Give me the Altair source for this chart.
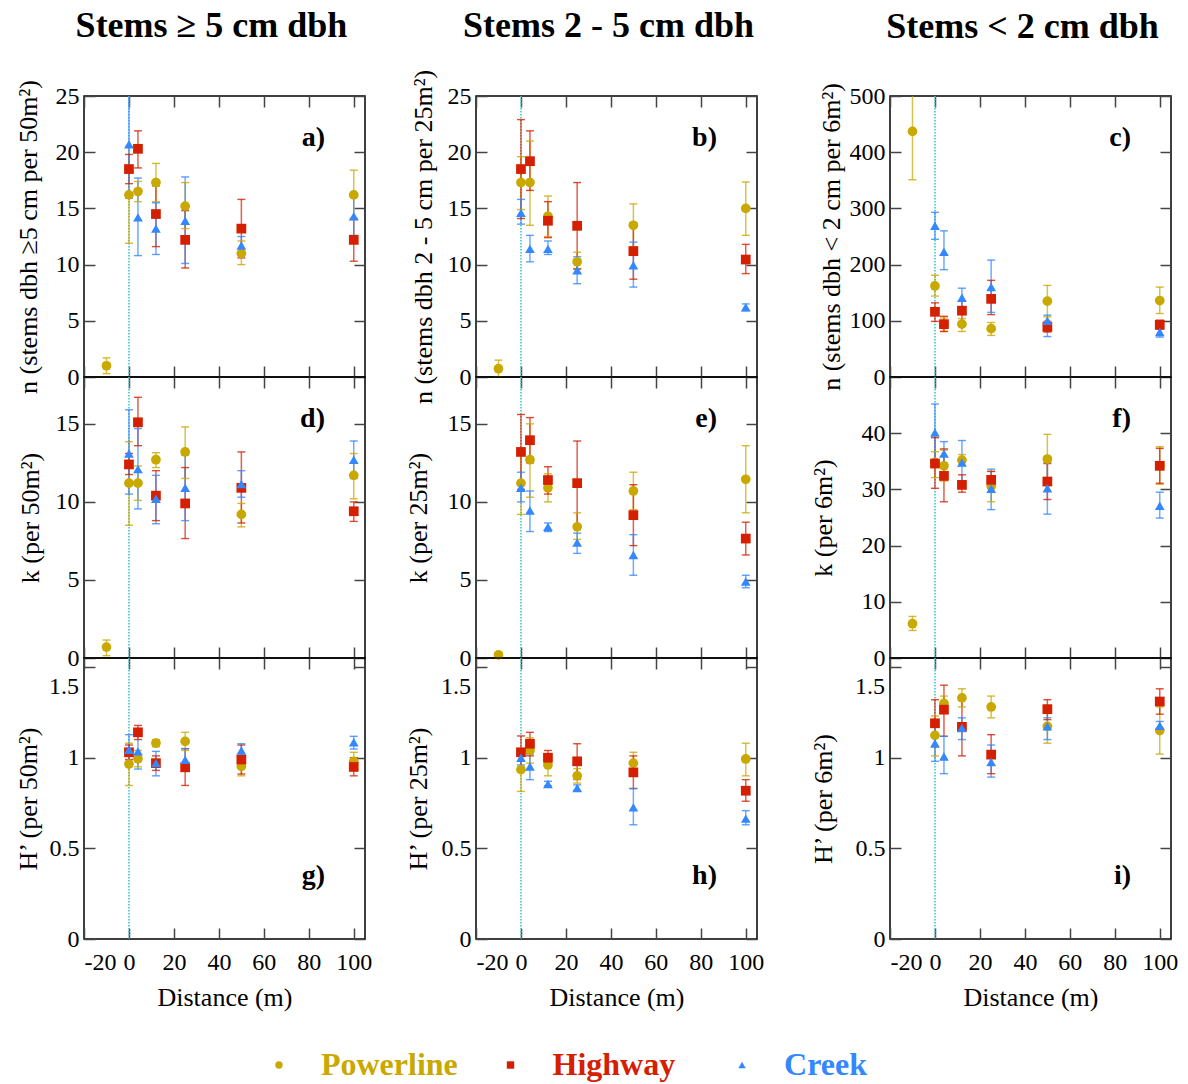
import altair as alt
import pandas as pd

FONT = "Liberation Serif"
SERIES = ["Powerline", "Highway", "Creek"]
COLORS = ["#C9A800", "#D42000", "#3388FF"]
SHAPES = ["circle", "square", "triangle-up"]
DIST = [0, 4, 12, 25, 50, 100]
X_TICKS = [-20, 0, 20, 40, 60, 80, 100]

# Powerline reference plot at -10 m (panels a-f): mean, low, high
REF_DIST = -10
REF_MEAN = [1.0, 0.74, 437, 0.7, 0.2, 6.1]
REF_LO = [0.3, 0.0, 351, 0.15, 0.05, 4.9]
REF_HI = [1.7, 1.5, 523, 1.15, 0.35, 7.4]

# ---- panel a: n stems >= 5 cm per 50 m2
A_POW = [16.2, 16.5, 17.3, 15.2, 11.0, 16.2]
A_POW_LO = [11.9, 15.6, 15.6, 13.2, 10.0, 14.0]
A_POW_HI = [20.5, 17.4, 19.0, 17.3, 12.1, 18.4]
A_HWY = [18.5, 20.3, 14.5, 12.2, 13.2, 12.2]
A_HWY_LO = [17.2, 18.6, 11.6, 9.7, 10.6, 10.3]
A_HWY_HI = [19.8, 21.9, 17.0, 14.8, 15.8, 14.1]
A_CRK = [20.7, 14.2, 13.2, 13.9, 11.7, 14.3]
A_CRK_LO = [15.9, 10.8, 10.9, 10.1, 10.9, 12.6]
A_CRK_HI = [25.5, 17.7, 15.5, 17.8, 12.5, 16.0]

# ---- panel b: n stems 2-5 cm per 25 m2
B_POW = [17.3, 17.3, 14.3, 10.25, 13.5, 15.0]
B_POW_LO = [14.9, 13.5, 12.5, 9.65, 11.6, 12.6]
B_POW_HI = [19.6, 21.0, 16.1, 11.1, 15.4, 17.35]
B_HWY = [18.5, 19.2, 13.9, 13.45, 11.2, 10.45]
B_HWY_LO = [14.1, 16.6, 12.4, 9.6, 8.7, 9.2]
B_HWY_HI = [22.9, 21.9, 15.6, 17.3, 13.7, 11.8]
B_CRK = [14.6, 11.4, 11.4, 9.5, 9.95, 6.2]
B_CRK_LO = [13.6, 10.25, 10.9, 8.3, 8.0, 5.9]
B_CRK_HI = [15.8, 12.6, 12.1, 10.7, 12.0, 6.5]

# ---- panel c: n stems < 2 cm per 6 m2
C_POW = [162, 93, 94, 86, 135, 136]
C_POW_LO = [144, 81, 81, 74, 107, 113]
C_POW_HI = [181, 105, 104, 97, 163, 160]
C_HWY = [116, 94, 118, 139, 89, 93]
C_HWY_LO = [99, 81, 98, 111, 80, 85]
C_HWY_HI = [132, 108, 135, 172, 99, 101]
C_CRK = [269, 223, 141, 160, 100, 80]
C_CRK_LO = [245, 191, 124, 115, 72, 71]
C_CRK_HI = [293, 260, 158, 208, 110, 87]

# ---- panel d: k per 50 m2
D_POW = [11.2, 11.2, 12.7, 13.2, 9.2, 11.7]
D_POW_LO = [8.5, 10.1, 12.2, 11.5, 8.4, 10.2]
D_POW_HI = [13.85, 12.3, 13.15, 14.8, 9.9, 13.1]
D_HWY = [12.4, 15.1, 10.4, 9.9, 10.9, 9.4]
D_HWY_LO = [11.75, 13.6, 8.8, 7.65, 8.65, 8.75]
D_HWY_HI = [13.1, 16.7, 12.0, 12.2, 13.2, 10.0]
D_CRK = [13.1, 12.1, 10.2, 10.9, 11.15, 12.7]
D_CRK_LO = [10.5, 9.55, 8.6, 8.8, 10.3, 11.5]
D_CRK_HI = [15.9, 14.7, 11.7, 13.0, 12.0, 13.9]

# ---- panel e: k per 25 m2
E_POW = [11.2, 12.7, 10.9, 8.4, 10.7, 11.45]
E_POW_LO = [9.2, 10.3, 10.0, 7.6, 9.5, 9.3]
E_POW_HI = [13.2, 15.0, 11.8, 9.3, 11.9, 13.6]
E_HWY = [13.2, 13.95, 11.4, 11.2, 9.15, 7.65]
E_HWY_LO = [10.8, 12.5, 10.5, 8.5, 7.2, 6.6]
E_HWY_HI = [15.6, 15.4, 12.25, 13.9, 11.1, 8.7]
E_CRK = [10.9, 9.45, 8.4, 7.4, 6.6, 4.9]
E_CRK_LO = [10.0, 8.1, 8.1, 6.7, 5.3, 4.5]
E_CRK_HI = [11.9, 10.7, 8.65, 8.0, 7.9, 5.3]

# ---- panel f: k per 6 m2
F_POW = [34.8, 34.2, 35.2, 30.6, 35.4, 34.2]
F_POW_LO = [32.1, 31.5, 34.2, 27.8, 31.0, 30.9]
F_POW_HI = [36.7, 37.0, 36.2, 33.2, 39.8, 37.6]
F_HWY = [34.6, 32.4, 30.8, 31.7, 31.4, 34.2]
F_HWY_LO = [30.2, 27.8, 29.5, 30.2, 28.2, 31.1]
F_HWY_HI = [39.2, 37.2, 32.6, 33.2, 34.6, 37.3]
F_CRK = [40.1, 36.4, 34.8, 30.1, 30.2, 27.1]
F_CRK_LO = [35.0, 34.3, 30.9, 26.4, 25.6, 24.9]
F_CRK_HI = [45.2, 38.5, 38.7, 33.6, 34.8, 29.5]

# ---- panel g: H' per 50 m2
G_POW = [0.965, 0.994, 1.081, 1.09, 0.952, 0.98]
G_POW_LO = [0.847, 0.95, 1.06, 1.04, 0.90, 0.93]
G_POW_HI = [1.08, 1.04, 1.10, 1.14, 1.00, 1.03]
G_HWY = [1.03, 1.14, 0.97, 0.947, 0.99, 0.949]
G_HWY_LO = [0.99, 1.10, 0.93, 0.847, 0.91, 0.90]
G_HWY_HI = [1.07, 1.178, 1.01, 1.05, 1.07, 1.00]
G_CRK = [1.044, 1.035, 0.97, 0.989, 1.04, 1.085]
G_CRK_LO = [0.96, 0.9375, 0.90, 0.93, 1.00, 1.048]
G_CRK_HI = [1.127, 1.13, 1.035, 1.05, 1.077, 1.118]

# ---- panel h: H' per 25 m2
H_POW = [0.934, 1.04, 0.96, 0.90, 0.97, 0.993]
H_POW_LO = [0.814, 0.97, 0.90, 0.86, 0.91, 0.90]
H_POW_HI = [1.05, 1.11, 1.02, 0.94, 1.03, 1.08]
H_HWY = [1.03, 1.077, 1.00, 0.98, 0.919, 0.818]
H_HWY_LO = [0.94, 1.01, 0.96, 0.88, 0.83, 0.76]
H_HWY_HI = [1.12, 1.14, 1.04, 1.077, 1.01, 0.879]
H_CRK = [1.00, 0.952, 0.855, 0.833, 0.726, 0.664]
H_CRK_LO = [0.96, 0.879, 0.845, 0.82, 0.63, 0.63]
H_CRK_HI = [1.04, 1.02, 0.87, 0.85, 0.83, 0.708]

# ---- panel i: H' per 6 m2
I_POW = [1.123, 1.30, 1.33, 1.28, 1.173, 1.15]
I_POW_LO = [1.01, 1.26, 1.28, 1.22, 1.08, 1.02]
I_POW_HI = [1.23, 1.34, 1.38, 1.34, 1.26, 1.28]
I_HWY = [1.19, 1.265, 1.17, 1.017, 1.268, 1.31]
I_HWY_LO = [1.06, 1.118, 1.01, 0.912, 1.21, 1.24]
I_HWY_HI = [1.32, 1.40, 1.33, 1.127, 1.32, 1.38]
I_CRK = [1.08, 1.007, 1.164, 0.976, 1.173, 1.176]
I_CRK_LO = [0.98, 0.912, 1.10, 0.893, 1.10, 1.15]
I_CRK_HI = [1.18, 1.118, 1.22, 1.07, 1.22, 1.20]

COL_TITLES = ["Stems \u2265 5 cm dbh", "Stems 2 - 5 cm dbh", "Stems < 2 cm dbh"]
Y_TITLES = [
    "n (stems dbh \u22655 cm per 50m\u00b2)", "n (stems dbh 2 - 5 cm per 25m\u00b2)", "n (stems dbh < 2 cm per 6m\u00b2)",
    "k (per 50m\u00b2)", "k (per 25m\u00b2)", "k (per 6m\u00b2)",
    "H\u2019 (per 50m\u00b2)", "H\u2019 (per 25m\u00b2)", "H\u2019 (per 6m\u00b2)",
]
PANEL_LABELS = ["a)", "b)", "c)", "d)", "e)", "f)", "g)", "h)", "i)"]
Y_DOMAINS = [[0, 25], [0, 25], [0, 500], [0, 18], [0, 18], [0, 50], [0, 1.55], [0, 1.55], [0, 1.55]]
Y_VALUES = [
    [0, 5, 10, 15, 20, 25], [0, 5, 10, 15, 20, 25], [0, 100, 200, 300, 400, 500],
    [0, 5, 10, 15], [0, 5, 10, 15], [0, 10, 20, 30, 40],
    [0, 0.5, 1, 1.5], [0, 0.5, 1, 1.5], [0, 0.5, 1, 1.5],
]
TITLE_PAD = [14, 11, 5, 12, 16, 25, 8, 10, 19]
COL_TITLE_OFFSET = [35, 24, 37]
COL_TITLE_DX = [-13, -8, -8]

PANELS = [
    [(A_POW, A_POW_LO, A_POW_HI), (A_HWY, A_HWY_LO, A_HWY_HI), (A_CRK, A_CRK_LO, A_CRK_HI)],
    [(B_POW, B_POW_LO, B_POW_HI), (B_HWY, B_HWY_LO, B_HWY_HI), (B_CRK, B_CRK_LO, B_CRK_HI)],
    [(C_POW, C_POW_LO, C_POW_HI), (C_HWY, C_HWY_LO, C_HWY_HI), (C_CRK, C_CRK_LO, C_CRK_HI)],
    [(D_POW, D_POW_LO, D_POW_HI), (D_HWY, D_HWY_LO, D_HWY_HI), (D_CRK, D_CRK_LO, D_CRK_HI)],
    [(E_POW, E_POW_LO, E_POW_HI), (E_HWY, E_HWY_LO, E_HWY_HI), (E_CRK, E_CRK_LO, E_CRK_HI)],
    [(F_POW, F_POW_LO, F_POW_HI), (F_HWY, F_HWY_LO, F_HWY_HI), (F_CRK, F_CRK_LO, F_CRK_HI)],
    [(G_POW, G_POW_LO, G_POW_HI), (G_HWY, G_HWY_LO, G_HWY_HI), (G_CRK, G_CRK_LO, G_CRK_HI)],
    [(H_POW, H_POW_LO, H_POW_HI), (H_HWY, H_HWY_LO, H_HWY_HI), (H_CRK, H_CRK_LO, H_CRK_HI)],
    [(I_POW, I_POW_LO, I_POW_HI), (I_HWY, I_HWY_LO, I_HWY_HI), (I_CRK, I_CRK_LO, I_CRK_HI)],
]

W = 281
H = 281
TICK = 11
TICK_COLOR = "#444444"

color_enc = alt.Color("series:N", scale=alt.Scale(domain=SERIES, range=COLORS), legend=None)
shape_enc = alt.Shape("series:N", scale=alt.Scale(domain=SERIES, range=SHAPES), legend=None)


def panel_frame(idx):
    rows = []
    for s, (m, lo, hi) in zip(SERIES, PANELS[idx]):
        if s == "Powerline" and idx < 6:
            rows.append(dict(series=s, dist=REF_DIST, mean=REF_MEAN[idx], lo=REF_LO[idx], hi=REF_HI[idx]))
        for d, a, b, c in zip(DIST, m, lo, hi):
            rows.append(dict(series=s, dist=d, mean=a, lo=b, hi=c))
    return pd.DataFrame(rows)


def make_panel(idx):
    row = idx // 3
    col = idx % 3
    df = panel_frame(idx)
    xs = alt.Scale(domain=[-20, 105], nice=False, zero=False)
    ys = alt.Scale(domain=Y_DOMAINS[idx], nice=False, zero=False)
    base = alt.Chart(df)

    left_kw = dict(orient="left", offset=-TICK, tickSize=TICK, values=Y_VALUES[idx],
                   labelExpr="toString(datum.value)",
                   labelPadding=5, title=Y_TITLES[idx], titlePadding=TITLE_PAD[idx])
    if row == 2:
        left_kw["labelExpr"] = "datum.value == 1.5 ? '' : toString(datum.value)"
    left_axis = alt.Axis(**left_kw)
    if row == 2:
        bottom_axis = alt.Axis(orient="bottom", offset=-TICK, tickSize=TICK, values=X_TICKS,
                               labelExpr="toString(datum.value)",
                               labelPadding=11, title="Distance (m)", titlePadding=10)
    else:
        bottom_axis = alt.Axis(orient="bottom", offset=-TICK, tickSize=TICK, values=X_TICKS,
                               labels=False, title=None)
    top_axis = alt.Axis(orient="top", offset=-TICK, tickSize=TICK, values=X_TICKS, labels=False, title=None)
    right_axis = alt.Axis(orient="right", offset=-TICK, tickSize=TICK, values=Y_VALUES[idx],
                          labels=False, title=None)

    zero = alt.Chart(pd.DataFrame({"dist": [0]})).mark_rule(
        color="#3CC3CF", strokeWidth=2, strokeDash=[1.5, 1.5], opacity=0.8
    ).encode(x=alt.X("dist:Q", scale=xs, axis=None))

    err = base.mark_rule(strokeWidth=1.5, opacity=0.7, clip=True).encode(
        x=alt.X("dist:Q", scale=xs, axis=bottom_axis),
        y=alt.Y("lo:Q", scale=ys, axis=left_axis),
        y2="hi:Q",
        color=color_enc,
    )
    cap_lo = base.mark_tick(orient="horizontal", size=8, thickness=1.4, opacity=0.8, clip=True).encode(
        x=alt.X("dist:Q", scale=xs, axis=None),
        y=alt.Y("lo:Q", scale=ys, axis=None),
        color=color_enc,
    )
    cap_hi = base.mark_tick(orient="horizontal", size=8, thickness=1.4, opacity=0.8, clip=True).encode(
        x=alt.X("dist:Q", scale=xs, axis=None),
        y=alt.Y("hi:Q", scale=ys, axis=None),
        color=color_enc,
    )
    pts = base.mark_point(filled=True, opacity=1, size=95, strokeWidth=0).encode(
        x=alt.X("dist:Q", scale=xs, axis=top_axis),
        y=alt.Y("mean:Q", scale=ys, axis=right_axis),
        color=color_enc,
        shape=shape_enc,
    )
    lab = alt.Chart(pd.DataFrame({"t": [PANEL_LABELS[idx]]})).mark_text(
        font=FONT, fontSize=28, fontWeight="bold", align="right", baseline="middle", color="black"
    ).encode(text="t:N", x=alt.value(241), y=alt.value(218 if row == 2 else 42))

    layers = [zero, err, cap_lo, cap_hi, pts, lab]
    if row == 2:
        l15 = alt.Chart(pd.DataFrame({"v": [1.5]})).mark_text(
            font=FONT, fontSize=24, align="right", baseline="middle", dx=-5, dy=20, color="black"
        ).encode(x=alt.value(0), y=alt.Y("v:Q", scale=ys, axis=None), text=alt.Text("v:Q", format="~g"))
        layers.append(l15)

    chart = alt.layer(*layers).resolve_axis(x="independent", y="independent").properties(width=W, height=H)
    if row == 0:
        chart = chart.properties(title=alt.Title(
            COL_TITLES[col], font=FONT, fontSize=36, fontWeight="bold", anchor="middle",
            frame="group", dx=COL_TITLE_DX[col], offset=COL_TITLE_OFFSET[col], color="black"))
    return chart


cols = []
for c in range(3):
    cols.append(alt.vconcat(make_panel(c), make_panel(c + 3), make_panel(c + 6), spacing=0, bounds="flush"))

main = alt.hconcat(alt.hconcat(cols[0], cols[1], spacing=31), cols[2], spacing=44)

leg_df = pd.DataFrame({"series": SERIES})
leg_x = alt.X("series:N", sort=SERIES, scale=alt.Scale(type="point", domain=SERIES, padding=0.842), axis=None)
leg_pts = alt.Chart(leg_df).mark_point(filled=True, opacity=1, size=55, strokeWidth=0).encode(
    x=leg_x, color=color_enc, shape=shape_enc)
leg_txt = alt.Chart(leg_df).mark_text(
    font=FONT, fontSize=32, fontWeight="bold", align="left", baseline="middle", dx=42
).encode(x=leg_x, text="series:N", color=color_enc)
legend = alt.layer(leg_pts, leg_txt).properties(
    width=853, height=40, view=alt.ViewBackground(strokeOpacity=0))

chart = alt.vconcat(main, legend, spacing=34).properties(
    background="white", padding={"left": 14, "top": 6, "right": 5, "bottom": 5}
).configure_view(stroke="black", strokeWidth=1.5).configure_axis(
    labelFont=FONT, titleFont=FONT, labelFontSize=24, titleFontSize=26, titleFontWeight="normal",
    labelColor="black", titleColor="black", tickColor=TICK_COLOR, tickWidth=1.5, grid=False, domain=False
)

chart.save("out.html", embed_options={"renderer": "svg", "actions": False})
